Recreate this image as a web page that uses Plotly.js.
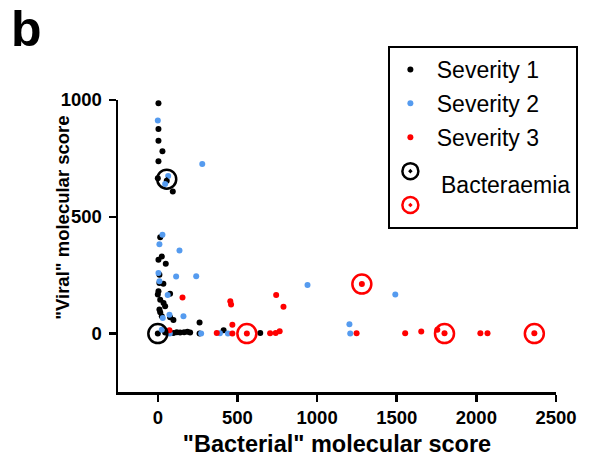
<!DOCTYPE html>
<html>
<head>
<meta charset="utf-8">
<script src="https://cdn.plot.ly/plotly-3.0.1.min.js"></script>
<style>html,body{margin:0;padding:0;background:#fff;}#chart{width:595px;height:462px;}</style>
</head>
<body>
<div id="chart"></div>
<script>
// Severity 1 (black)
const sev1X = [4,4,4,29,4,0,56,94, 15,25,4,50,10,10,35,4,0,15,36,46,77,10,15,25,77,98,262, 0,46,98,119,140,165,186,203,262,413,643];
const sev1Y = [986,876,826,781,738,665,654,608, 412,330,316,299,252,217,213,181,167,145,131,117,171,103,91,74,70,58,48, 0,5,3,6,5,6,8,5,0,14,3];
// Severity 2 (blue)
const sev2X = [0,279,65,46,29,10,136,4,115,241,10,62,73,161,31,25,75,272,390,440,940,1491,1203,1208];
const sev2Y = [912,726,675,640,423,383,356,259,244,245,224,165,81,74,67,17,0,0,2,0,208,167,40,0];
// Severity 3 (red)
const sev3X = [155,73,455,460,468,370,468,559,705,740,765,743,789,1281,1248,1553,1654,1755,1800,2025,2070,2364];
const sev3Y = [155,14,138,125,38,3,0,0,1,3,10,165,115,212,1,1,9,17,1,1,1,1];
// Bacteraemia
const bactBlackX = [0,56];
const bactBlackY = [0,661];
const bactRedX = [559,1281,1800,2364];
const bactRedY = [0,212,0,0];

const xTicks = [0,500,1000,1500,2000,2500];
const yTicks = [0,500,1000];

const FONT = 'Arial, "Liberation Sans", sans-serif';
const BLUE = '#559BEF';
const RED = '#FF0000';

const dot = (x, y, name, color, grp) => ({
  type: 'scatter', mode: 'markers', x, y, name: '&nbsp;' + name, legendgroup: grp,
  marker: {color, size: 6}, cliponaxis: false
});
const ring = (x, y, color, grp) => ({
  type: 'scatter', mode: 'markers', x, y, name: grp === 'br' ? '&nbsp;'.repeat(22) : '&nbsp;', legendgroup: grp,
  marker: {symbol: 'circle-open-dot', color, size: 19, line: {color, width: 2.5}}, cliponaxis: false
});

const data = [
  dot(sev1X, sev1Y, 'Severity 1', '#000000', 's1'),
  dot(sev2X, sev2Y, 'Severity 2', BLUE, 's2'),
  dot(sev3X, sev3Y, 'Severity 3', RED, 's3'),
  ring(bactBlackX, bactBlackY, '#000000', 'bb'),
  ring(bactRedX, bactRedY, RED, 'br')
];

const axisCommon = {
  showline: true, linecolor: '#000', linewidth: 2.5,
  showgrid: false, zeroline: false, automargin: false,
  ticks: 'outside', ticklen: 7, tickwidth: 2.5, tickcolor: '#000',
  tickfont: {family: FONT, size: 18.5, weight: 'bold', color: '#000'},
  fixedrange: true
};

const layout = {
  width: 595, height: 462,
  margin: {l: 118, r: 39, t: 100, b: 70, autoexpand: false},
  paper_bgcolor: '#fff', plot_bgcolor: '#fff',
  showlegend: true,
  xaxis: Object.assign({}, axisCommon, {
    range: [-250, 2500], tickvals: xTicks, ticktext: xTicks.map(String),
    title: {text: '"Bacterial" molecular score', font: {family: FONT, size: 23.5, weight: 'bold', color: '#000'}, standoff: 9}
  }),
  yaxis: Object.assign({}, axisCommon, {
    range: [-250, 1000], tickvals: yTicks, ticktext: yTicks.map(String),
    ticklabelstandoff: 3
  }),
  legend: {
    x: 0.6173, y: 1.185, xanchor: 'left', yanchor: 'top',
    bgcolor: '#fff', bordercolor: '#000', borderwidth: 2,
    font: {family: FONT, size: 23, color: '#000'},
    tracegroupgap: 1, itemclick: false
  },
  annotations: [
    {text: 'b', xref: 'paper', yref: 'paper', x: -0.249, y: 1.345, xanchor: 'left', yanchor: 'top',
     showarrow: false, font: {family: FONT, size: 50, weight: 'bold', color: '#000'}},
    {text: '"Viral" molecular score', xref: 'paper', yref: 'paper', x: -0.127, y: 0.598, xanchor: 'center', yanchor: 'middle',
     textangle: -90, showarrow: false, font: {family: FONT, size: 18.5, weight: 'bold', color: '#000'}},
    {text: 'Bacteraemia', xref: 'paper', yref: 'paper', x: 0.734, y: 0.708, xanchor: 'left', yanchor: 'middle',
     showarrow: false, font: {family: FONT, size: 23, color: '#000'}}
  ]
};

Plotly.newPlot('chart', data, layout, {displayModeBar: false, staticPlot: true});
</script>
</body>
</html>
